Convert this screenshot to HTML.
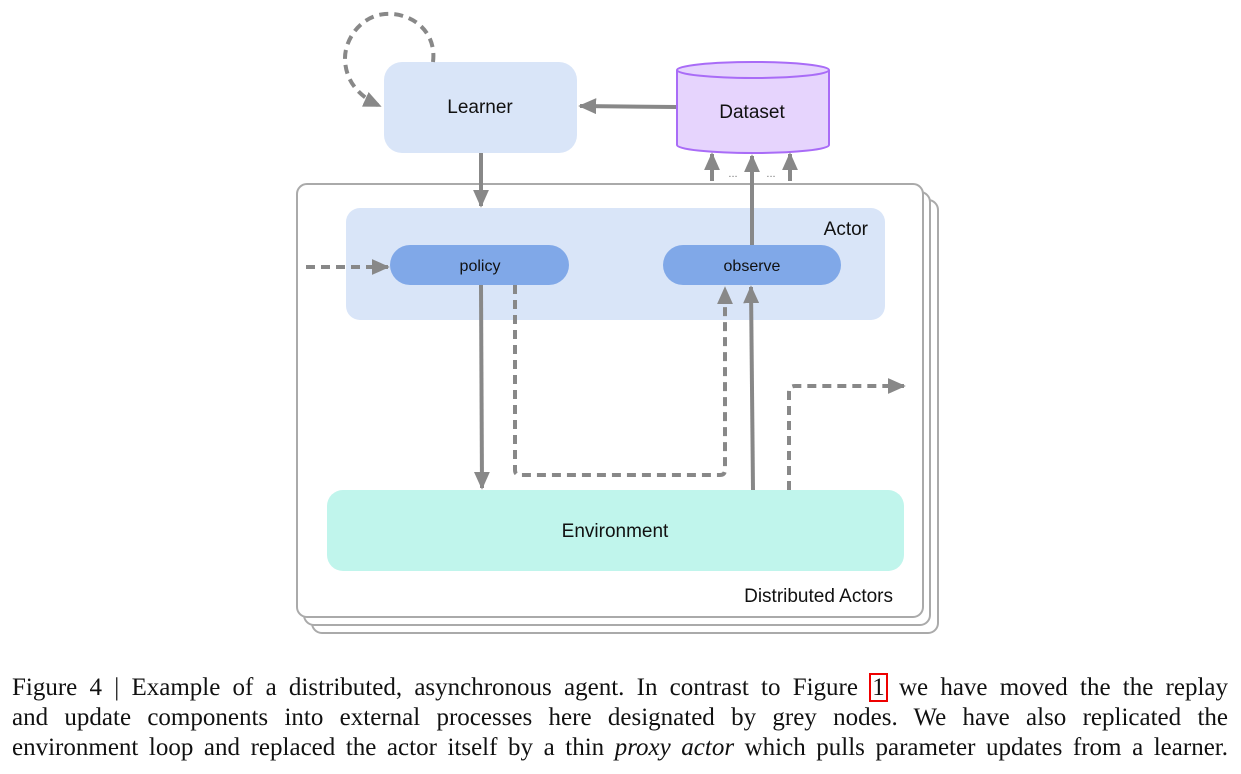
<!DOCTYPE html>
<html><head><meta charset="utf-8"><style>
html,body{margin:0;padding:0;background:#fff;width:1241px;height:774px;overflow:hidden}
.cap{position:absolute;left:12px;width:1216px;font-family:"Liberation Serif",serif;font-size:25px;line-height:30px;color:#111;text-align:justify;text-align-last:justify;white-space:nowrap}
</style></head><body>
<svg width="1241" height="660" style="position:absolute;left:0;top:0" font-family="Liberation Sans, sans-serif">
<defs>
<marker id="b" viewBox="0 0 10 10" refX="9" refY="5" markerWidth="18" markerHeight="16" orient="auto" markerUnits="userSpaceOnUse" preserveAspectRatio="none"><path d="M0,0 L10,5 L0,10z" fill="#888"/></marker>
</defs>
<rect x="312" y="200" width="626" height="433" rx="10" fill="#fff" stroke="#aaa" stroke-width="2"/>
<rect x="304" y="192" width="626" height="433" rx="10" fill="#fff" stroke="#aaa" stroke-width="2"/>
<rect x="297" y="184" width="626" height="433" rx="10" fill="#fff" stroke="#aaa" stroke-width="2"/>
<rect x="346" y="208" width="539" height="112" rx="14" fill="#d9e5f8"/>
<text x="868" y="235" font-size="19" text-anchor="end" fill="#111">Actor</text>
<rect x="390" y="245" width="179" height="40" rx="20" fill="#80a8e8"/>
<text x="480" y="271" font-size="16" text-anchor="middle" fill="#111">policy</text>
<rect x="663" y="245" width="178" height="40" rx="20" fill="#80a8e8"/>
<text x="752" y="271" font-size="16" text-anchor="middle" fill="#111">observe</text>
<rect x="327" y="490" width="577" height="81" rx="16" fill="#c0f5ec"/>
<text x="615" y="537" font-size="19" text-anchor="middle" fill="#111">Environment</text>
<text x="893" y="602" font-size="19" text-anchor="end" fill="#111">Distributed Actors</text>
<rect x="384" y="62" width="193" height="91" rx="18" fill="#d9e5f8"/>
<text x="480" y="113" font-size="19" text-anchor="middle" fill="#111">Learner</text>
<path d="M677,70 L677,145 A76,8 0 0 0 829,145 L829,70" fill="#e6d4fd" stroke="#a96cf7" stroke-width="2"/>
<ellipse cx="753" cy="70" rx="76" ry="8" fill="#e6d4fd" stroke="#a96cf7" stroke-width="2"/>
<text x="752" y="118" font-size="19" text-anchor="middle" fill="#111">Dataset</text>
<g stroke="#888" stroke-width="4" fill="none">
<line x1="676" y1="107" x2="580" y2="106" marker-end="url(#b)"/>
<line x1="481" y1="153" x2="481" y2="206" marker-end="url(#b)"/>
<line x1="712" y1="181" x2="712" y2="154" marker-end="url(#b)"/>
<line x1="790" y1="181" x2="790" y2="154" marker-end="url(#b)"/>
<line x1="752" y1="245" x2="752" y2="156" marker-end="url(#b)"/>
<line x1="481" y1="285" x2="482" y2="488" marker-end="url(#b)"/>
<line x1="753" y1="490" x2="751" y2="287" marker-end="url(#b)"/>
</g>
<g stroke="#888" stroke-width="4" fill="none" stroke-dasharray="9,6">
<path d="M306,267 L388,267" marker-end="url(#b)"/>
<path d="M515,285 L515,470 Q515,475 520,475 L720,475 Q725,475 725,470 L725,288" marker-end="url(#b)"/>
<path d="M789,490 L789,392 Q789,386 795,386 L904,386" marker-end="url(#b)"/>
<path d="M433,62 C437,30 410,12 385,14 C360,16 345,40 345,58 C345,80 358,96 380,106" marker-end="url(#b)"/>
</g>
<text x="733" y="177" font-size="11" text-anchor="middle" fill="#777">...</text>
<text x="771" y="177" font-size="11" text-anchor="middle" fill="#777">...</text>
</svg>
<div class="cap" style="top:673px">Figure 4 | Example of a distributed, asynchronous agent. In contrast to Figure <span style="outline:2px solid #e00;outline-offset:-1px;padding:0 2px">1</span> we have moved the the replay</div>
<div class="cap" style="top:703px">and update components into external processes here designated by grey nodes. We have also replicated the</div>
<div class="cap" style="top:733px">environment loop and replaced the actor itself by a thin <i>proxy actor</i> which pulls parameter updates from a learner.</div>
</body></html>
